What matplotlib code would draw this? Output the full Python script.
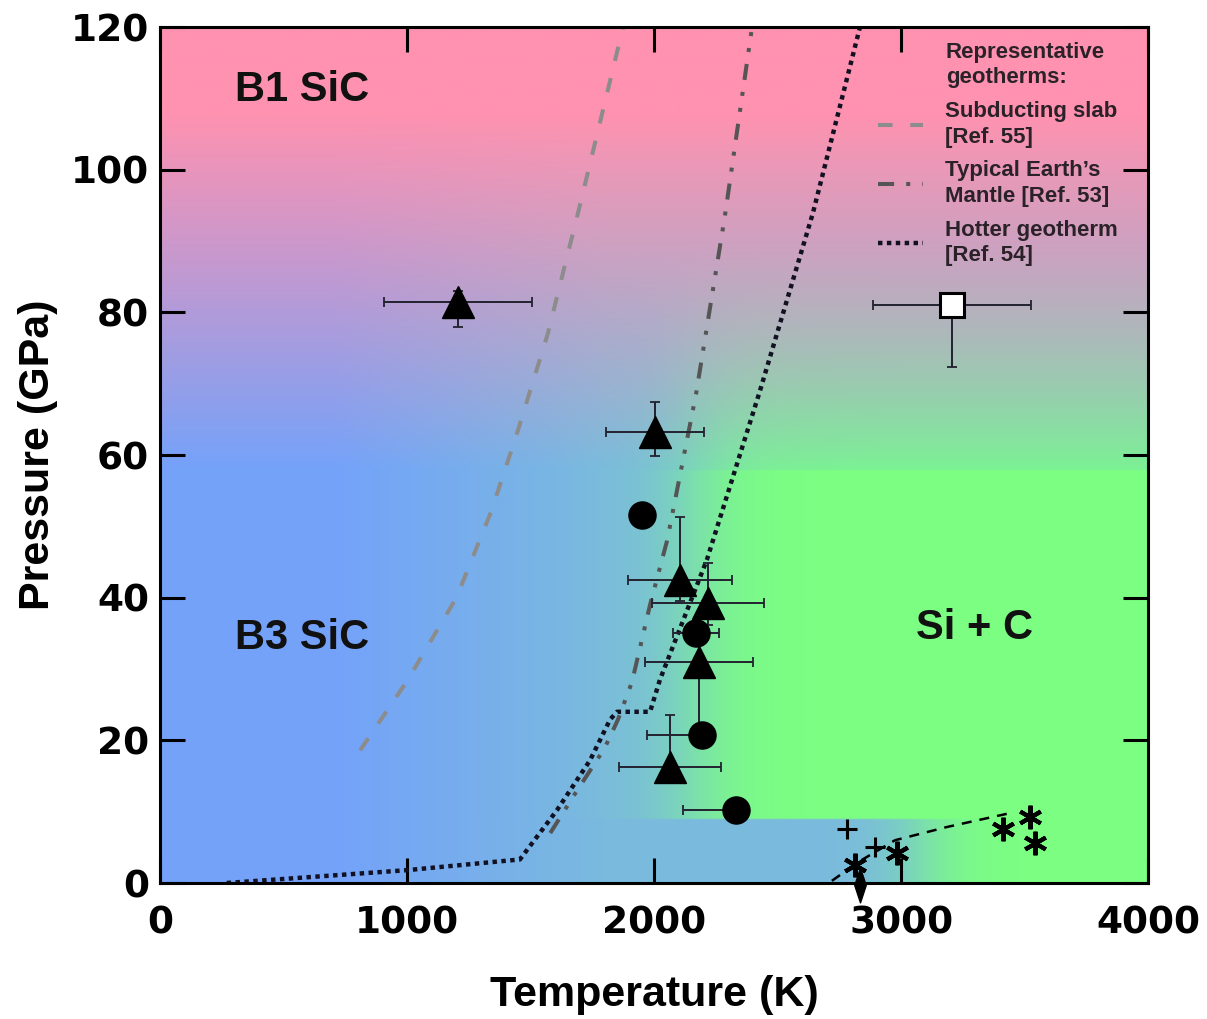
import numpy as np
import matplotlib
matplotlib.use("Agg")
import matplotlib.pyplot as plt
from matplotlib.path import Path

# ---- geotherms (T in K, P in GPa)
slab_T = [810, 1000, 1200, 1340, 1445, 1570, 1700, 1875]
slab_P = [18.6, 28.3, 40, 52, 63, 77, 95, 120]

mantle_T = [1580, 1680, 1800, 1854, 1911, 1984, 2053, 2110, 2170, 2287, 2397]
mantle_P = [7, 12.5, 18.9, 22.9, 28.2, 39, 48, 58, 68.5, 93.5, 120]

hot_T = [270, 1000, 1457, 1607, 1741, 1822, 1850, 1984, 2024, 2214, 2429, 2644, 2834]
hot_P = [0, 1.8, 3.3, 10.2, 17.2, 22.9, 24, 24, 28.5, 45.3, 69, 94, 120]

# melting curve (black dashed)
melt_T = [2720, 2830, 2976, 3186, 3429]
melt_P = [0.3, 3.0, 6.0, 7.85, 9.7]

# ---- experimental points
tri_T = [1206, 2004, 2105, 2219, 2182, 2065]
tri_P = [81.5, 63.2, 42.5, 39.2, 31.0, 16.3]
tri_Terr = [300, 200, 210, 227, 220, 206]
tri_Plo = [3.5, 3.4, 3.0, 3.0, 9.0, 1.0]
tri_Phi = [1.5, 4.2, 8.8, 5.7, 4.0, 7.2]

circ_T = [1951, 2170, 2194, 2332]
circ_P = [51.6, 35.0, 20.7, 10.2]
circ_Tlo = [0, 93, 222, 215]
circ_Thi = [0, 93, 0, 0]

sq_T = [3206]
sq_P = [81.0]
sq_Terr = [320]
sq_Plo = [8.7]

plus_T = [2781, 2895]
plus_P = [7.6, 5.0]

ast_T = [2814, 2985, 3412, 3522, 3543]
ast_P = [2.5, 4.2, 7.6, 9.3, 5.6]

dia_T = [2834]
dia_P = [-0.3]

# ---- phase field colours and boundaries
pink = np.array([255, 146, 176])
blue_left = np.array([116, 162, 250])
blue_mid = np.array([122, 186, 222])
green = np.array([124, 255, 130])
T_green_hi = 2150      # B3 -> Si+C above P_low_edge
T_green_lo = 3080      # B3 -> Si+C below P_low_edge
P_low_edge = 9
P_b1_start, P_b1_end = 58, 108

fig = plt.figure(figsize=(12.07, 10.19), dpi=100)
ax = fig.add_axes([160 / 1207, 136 / 1019, 988 / 1207, 856 / 1019])

# background phase diagram
Tg = np.linspace(0, 4000, 801)
Pg = np.linspace(0, 120, 481)
TT, PP = np.meshgrid(Tg, Pg)
ramp = lambda x, a, b: np.clip((x - a) / (b - a), 0, 1)
blue = blue_left + (blue_mid - blue_left) * ramp(TT, 700, 1800)[..., None]
tb = np.where(PP < P_low_edge, T_green_lo, T_green_hi)
wd = np.where(PP < P_low_edge, 95, 110)
g = 1 / (1 + np.exp(-(TT - tb) / wd))
h = np.where(PP < P_b1_start, 1.0, np.clip(0.8 - (PP - P_b1_start) * 0.025, 0, 1))
g = (g * h)[..., None]
lower = blue * (1 - g) + green * g
b1 = ramp(PP, P_b1_start, P_b1_end)[..., None]
rgb = lower * (1 - b1) + pink * b1
ax.imshow(rgb / 255, origin="lower", extent=[0, 4000, 0, 120], aspect="auto",
          interpolation="bilinear", zorder=0)

# geotherms
ax.plot(slab_T, slab_P, color="#8c8c8c", lw=2.9, dashes=(3.6, 4.4), zorder=2,
        label="Subducting slab\n[Ref. 55]")
ax.plot(mantle_T, mantle_P, color="#555555", lw=2.9, dashes=(4.0, 3, 1, 3, 1, 3), zorder=2,
        label="Typical Earth\u2019s\nMantle [Ref. 53]")
ax.plot(hot_T, hot_P, color="#111122", lw=3.2, dashes=(1, 1), zorder=2,
        label="Hotter geotherm\n[Ref. 54]")
ax.plot(melt_T, melt_P, color="black", lw=1.8, dashes=(4, 3.2), zorder=3)

ekw = dict(fmt="none", ecolor="#222230", elinewidth=1.4, capsize=3.5, capthick=1.3, zorder=3)
ax.errorbar(tri_T, tri_P, xerr=tri_Terr, yerr=[tri_Plo, tri_Phi], **ekw)
ax.errorbar(circ_T, circ_P, xerr=[circ_Tlo, circ_Thi], **ekw)
ax.errorbar(sq_T, sq_P, xerr=sq_Terr, yerr=[sq_Plo, [0]], **ekw)

ax.plot(tri_T, tri_P, "^", ms=23, color="black", zorder=4)
ax.plot(circ_T, circ_P, "o", ms=19.5, color="black", zorder=4)
ax.plot(sq_T, sq_P, "s", ms=17, mfc="white", mec="black", mew=2.2, zorder=4)
ax.plot(plus_T, plus_P, "+", ms=14, color="black", mew=2.2, zorder=4)
ax.plot(ast_T, ast_P, marker=(6, 2, 0), ls="none", ms=17, color="black", mew=3.0, zorder=4)
dia = Path([(0, 1), (0.33, 0), (0, -1), (-0.33, 0), (0, 1)],
           [Path.MOVETO, Path.LINETO, Path.LINETO, Path.LINETO, Path.CLOSEPOLY])
ax.plot(dia_T, dia_P, marker=dia, ls="none", ms=25, color="black", zorder=5, clip_on=False)

# phase labels
lab = dict(fontsize=30, fontweight="bold", family="Liberation Sans", color="#111111", zorder=6)
ax.text(304, 111.2, "B1 SiC", ha="left", va="center", **lab)
ax.text(304, 34.3, "B3 SiC", ha="left", va="center", **lab)
ax.text(3296, 35.7, "Si + C", ha="center", va="center", **lab)

# legend
ax.text(0.7955, 0.983, "Representative\ngeotherms:", transform=ax.transAxes, ha="left", va="top",
        fontsize=16, fontweight="bold", family="Liberation Sans", color="#2a2228",
        linespacing=1.3, zorder=6)
leg = ax.legend(loc="upper left", bbox_to_anchor=(0.727, 0.913), frameon=False,
                borderpad=0, borderaxespad=0, handlelength=2.0, handletextpad=1.0,
                labelspacing=0.55, prop={"family": "Liberation Sans", "weight": "bold", "size": 16})
for t in leg.get_texts():
    t.set_color("#2a2228")
    t.set_linespacing(1.3)

ax.set_xlim(0, 4000)
ax.set_ylim(0, 120)
ax.set_xticks([0, 1000, 2000, 3000, 4000])
ax.set_yticks(range(0, 121, 20))
ax.tick_params(direction="in", length=18, width=2.2, top=True, right=True, labelsize=27)
ax.tick_params(axis="x", pad=16)
ax.tick_params(axis="y", pad=8)
for lbl in ax.get_xticklabels() + ax.get_yticklabels():
    lbl.set_fontweight("bold")
    lbl.set_family("DejaVu Sans")
for s in ax.spines.values():
    s.set_linewidth(2.2)

ax.set_xlabel("Temperature (K)", fontsize=31, fontweight="bold", family="Liberation Sans", labelpad=24)
ax.set_ylabel("Pressure (GPa)", fontsize=31, fontweight="bold", family="Liberation Sans", labelpad=9)

fig.savefig("out.png", dpi=100)
